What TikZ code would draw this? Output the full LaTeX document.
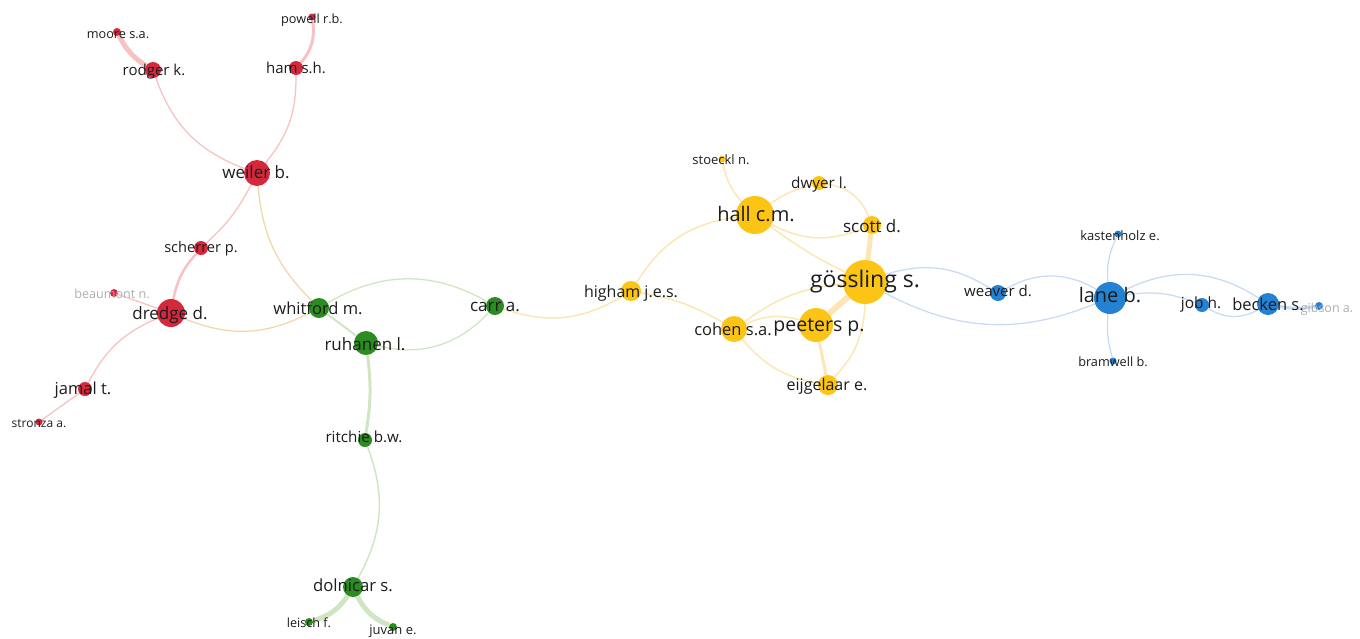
\documentclass[tikz,border=0pt]{standalone}
\usepackage{fontspec}
\setmainfont{Open Sans}
\definecolor{nred}{RGB}{212,40,60}
\definecolor{ngreen}{RGB}{44,140,34}
\definecolor{nyel}{RGB}{252,196,20}
\definecolor{nblue}{RGB}{36,130,210}
\definecolor{ered}{RGB}{248,194,194}
\definecolor{egreen}{RGB}{208,230,194}
\definecolor{eyel}{RGB}{253,230,180}
\definecolor{eblue}{RGB}{202,220,242}
\definecolor{emix}{RGB}{244,214,172}
\definecolor{labc}{RGB}{28,28,28}
\definecolor{fadec}{RGB}{175,175,175}
\pgfdeclarelayer{bg}
\pgfsetlayers{bg,main}
\begin{document}
\begin{tikzpicture}[x=1pt,y=-1pt,
  rnode/.style={circle,inner sep=0pt,fill=nred,minimum size=#1},
  gnode/.style={circle,inner sep=0pt,fill=ngreen,minimum size=#1},
  ynode/.style={circle,inner sep=0pt,fill=nyel,minimum size=#1},
  bnode/.style={circle,inner sep=0pt,fill=nblue,minimum size=#1},
  lab/.style={anchor=mid,yshift=-2.5pt,text=labc,inner sep=0pt,font=\fontsize{#1}{#1}\selectfont},
  flab/.style={anchor=mid,yshift=-2.5pt,text=fadec,inner sep=0pt,font=\fontsize{#1}{#1}\selectfont},
  re/.style={draw=ered,line width=#1}, re/.default=1.3pt,
  ge/.style={draw=egreen,line width=#1}, ge/.default=1.3pt,
  ye/.style={draw=eyel,line width=#1}, ye/.default=1.5pt,
  be/.style={draw=eblue,line width=#1}, be/.default=1.3pt,
  me/.style={draw=emix,line width=#1}, me/.default=1.3pt]
\useasboundingbox (0,0) rectangle (1360,638);

% red nodes
\node[rnode=8pt] (moore) at (117,32) {};
\node[rnode=7pt] (powell) at (312,17) {};
\node[rnode=16pt] (rodger) at (153,70) {};
\node[rnode=14pt] (ham) at (296,68) {};
\node[rnode=26pt] (weiler) at (257,173) {};
\node[rnode=14pt] (scherrer) at (201,248) {};
\node[rnode=8pt] (beaumont) at (114,293) {};
\node[rnode=28pt] (dredge) at (171,313) {};
\node[rnode=14pt] (jamal) at (85,389) {};
\node[rnode=7pt] (stronza) at (39,422) {};
% green nodes
\node[gnode=20pt] (whitford) at (319,308) {};
\node[gnode=24pt] (ruhanen) at (366,343) {};
\node[gnode=18pt] (carr) at (495,306) {};
\node[gnode=14pt] (ritchie) at (365,440) {};
\node[gnode=20pt] (dolnicar) at (353,587) {};
\node[gnode=8pt] (leisch) at (309,622) {};
\node[gnode=8pt] (juvan) at (393,627) {};
% yellow nodes
\node[ynode=7pt] (stoeckl) at (722,159) {};
\node[ynode=14pt] (dwyer) at (819,183) {};
\node[ynode=38pt] (hall) at (755,215) {};
\node[ynode=18pt] (scott) at (872,225) {};
\node[ynode=44pt] (gossling) at (865,282) {};
\node[ynode=20pt] (higham) at (631,291) {};
\node[ynode=26pt] (cohen) at (734,329) {};
\node[ynode=34pt] (peeters) at (816,325) {};
\node[ynode=20pt] (eijgelaar) at (828,385) {};
% blue nodes
\node[bnode=16pt] (weaver) at (998,293) {};
\node[bnode=32pt] (lane) at (1110,298) {};
\node[bnode=7pt] (kastenholz) at (1118,234) {};
\node[bnode=7pt] (bramwell) at (1113,361) {};
\node[bnode=14pt] (job) at (1202,305) {};
\node[bnode=22pt] (becken) at (1268,304) {};
\node[bnode=8pt] (gibson) at (1319,306) {};

\begin{pgfonlayer}{bg}
% red edges
\draw[re=5pt] (moore) to[bend right=15] (rodger);
\draw[re=3pt] (powell) to[bend left=25] (ham);
\draw[re] (rodger) to[bend right=25] (weiler);
\draw[re] (ham) to[bend left=20] (weiler);
\draw[re] (weiler) to[bend left=10] (scherrer);
\draw[re=2.5pt] (scherrer) to[bend right=15] (dredge);
\draw[re] (beaumont) -- (dredge);
\draw[re] (dredge) to[bend right=20] (jamal);
\draw[re] (jamal) -- (stronza);
\draw[me] (weiler) to[bend right=20] (whitford);
\draw[me] (dredge) to[bend right=25] (whitford);
% green edges
\draw[ge=2pt] (whitford) -- (ruhanen);
\draw[ge] (whitford) to[bend left=30] (carr);
\draw[ge] (ruhanen) to[bend right=30] (carr);
\draw[ge=3pt] (ruhanen) to[bend left=8] (ritchie);
\draw[ge=1.5pt] (ritchie) to[bend left=25] (dolnicar);
\draw[ge=5pt] (dolnicar) to[bend left=20] (leisch);
\draw[ge=5pt] (dolnicar) to[bend right=20] (juvan);
\draw[ye] (carr) to[bend right=25] (higham);
% yellow edges
\draw[ye] (higham) to[bend left=25] (hall);
\draw[ye] (higham) to[bend left=10] (cohen);
\draw[ye] (hall) to[bend left=15] (stoeckl);
\draw[ye] (hall) to[bend left=10] (dwyer);
\draw[ye] (hall) to[bend right=25] (scott);
\draw[ye] (hall) to[bend right=5] (gossling);
\draw[ye] (dwyer) to[bend left=30] (scott);
\draw[ye=5pt] (scott) -- (gossling);
\draw[ye=6pt] (gossling) -- (peeters);
\draw[ye] (gossling) to[bend right=15] (cohen);
\draw[ye] (cohen) to[bend left=20] (peeters);
\draw[ye=3pt] (peeters) -- (eijgelaar);
\draw[ye] (gossling) to[bend left=20] (eijgelaar);
\draw[ye] (cohen) to[bend right=20] (eijgelaar);
% blue edges
\draw[be] (gossling) to[bend left=25] (weaver);
\draw[be] (gossling) to[bend right=25] (lane);
\draw[be] (weaver) to[bend left=30] (lane);
\draw[be] (lane) to[bend left=15] (kastenholz);
\draw[be] (lane) to[bend right=10] (bramwell);
\draw[be] (lane) to[bend left=15] (job);
\draw[be] (lane) to[bend left=30] (becken);
\draw[be] (job) to[bend right=30] (becken);
\draw[be=3pt] (becken) to[bend right=10] (gibson);
\end{pgfonlayer}

% labels
\node[lab=12.7] (moore-l) at (118,33) {moore s.a.};
\node[lab=12.7] (powell-l) at (312,18) {powell r.b.};
\node[lab=15] (rodger-l) at (154,70) {rodger k.};
\node[lab=15] (ham-l) at (296,68) {ham s.h.};
\node[lab=17] (weiler-l) at (256,173) {weiler b.};
\node[lab=14.6] (scherrer-l) at (201,247) {scherrer p.};
\node[flab=12.6] (beaumont-l) at (112,293) {beaumont n.};
\node[lab=17] (dredge-l) at (170,314) {dredge d.};
\node[lab=16.5] (jamal-l) at (83,389) {jamal t.};
\node[lab=12] (stronza-l) at (39,422) {stronza a.};
\node[lab=16.5] (whitford-l) at (318,309) {whitford m.};
\node[lab=17] (ruhanen-l) at (365,345) {ruhanen l.};
\node[lab=17] (carr-l) at (495,306) {carr a.};
\node[lab=15.2] (ritchie-l) at (364,437) {ritchie b.w.};
\node[lab=16.7] (dolnicar-l) at (353,586) {dolnicar s.};
\node[lab=12.6] (leisch-l) at (309,622) {leisch f.};
\node[lab=13] (juvan-l) at (393,629) {juvan e.};
\node[lab=13] (stoeckl-l) at (721,159) {stoeckl n.};
\node[lab=15.3] (dwyer-l) at (819,183) {dwyer l.};
\node[lab=20] (hall-l) at (756,216) {hall c.m.};
\node[lab=17] (scott-l) at (872,227) {scott d.};
\node[lab=23] (gossling-l) at (865,282) {gössling s.};
\node[lab=16] (higham-l) at (631,292) {higham j.e.s.};
\node[lab=16.5] (cohen-l) at (733,330) {cohen s.a.};
\node[lab=19.5] (peeters-l) at (819,326) {peeters p.};
\node[lab=16] (eijgelaar-l) at (827,385) {eijgelaar e.};
\node[lab=15] (weaver-l) at (998,291) {weaver d.};
\node[lab=20] (lane-l) at (1110,297) {lane b.};
\node[lab=13] (kastenholz-l) at (1120,235) {kastenholz e.};
\node[lab=12.7] (bramwell-l) at (1113,361) {bramwell b.};
\node[lab=15.4] (job-l) at (1201,303) {job h.};
\node[lab=16.5] (becken-l) at (1268,305) {becken s.};
\node[flab=12.5] (gibson-l) at (1327,307) {gibson a.};
\end{tikzpicture}
\end{document}
